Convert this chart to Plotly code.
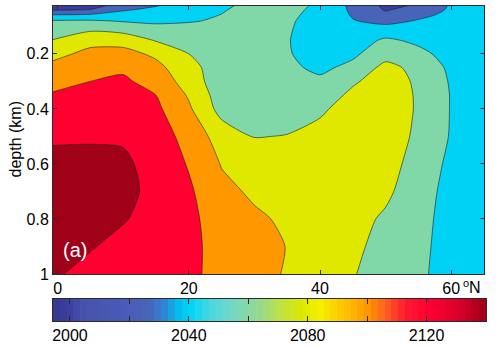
import numpy as np
import plotly.graph_objects as go

# Section grid: latitude (deg N) and depth (km)
lat = [-1, 5, 10, 15, 20, 25, 30, 35, 40, 45, 50, 55, 60, 65]
depth = [0.02, 0.04, 0.06, 0.08, 0.10, 0.15, 0.20, 0.25, 0.30, 0.35,
         0.40, 0.50, 0.60, 0.70, 0.80, 0.90, 1.00]

# Field values, one row per depth, one column per latitude
alk = [
    [1994.0, 1995.0, 2003.0, 2017.0, 2030.0, 2035.0, 2046.0, 2045.0, 2038.0, 2015.0, 1995.0, 2001.0, 2022.0, 2024.0],
    [1998.5, 2000.5, 2018.0, 2025.0, 2033.0, 2038.5, 2046.5, 2044.5, 2036.0, 2016.5, 1998.5, 2008.0, 2023.0, 2024.5],
    [2022.5, 2024.8, 2029.0, 2030.0, 2035.5, 2040.5, 2047.0, 2043.5, 2034.5, 2018.5, 2005.0, 2016.0, 2024.5, 2025.0],
    [2041.6, 2042.0, 2038.5, 2036.5, 2039.0, 2041.5, 2047.5, 2042.5, 2033.0, 2021.0, 2014.0, 2021.5, 2026.0, 2025.5],
    [2046.8, 2052.0, 2048.0, 2043.0, 2042.5, 2042.7, 2048.0, 2042.0, 2032.0, 2024.0, 2023.0, 2025.7, 2027.0, 2026.0],
    [2060.0, 2074.0, 2072.0, 2058.5, 2051.5, 2045.3, 2049.0, 2041.0, 2031.0, 2030.0, 2043.0, 2036.0, 2030.0, 2027.0],
    [2074.0, 2085.0, 2087.0, 2076.0, 2060.0, 2048.0, 2050.0, 2041.5, 2032.0, 2036.5, 2052.0, 2045.0, 2033.0, 2028.0],
    [2085.0, 2092.5, 2097.0, 2086.0, 2066.0, 2050.5, 2051.0, 2044.0, 2036.0, 2045.0, 2066.0, 2054.0, 2036.0, 2029.0],
    [2094.0, 2100.0, 2103.0, 2093.0, 2071.0, 2048.0, 2052.0, 2047.0, 2043.7, 2057.5, 2069.0, 2057.0, 2038.0, 2030.0],
    [2101.5, 2104.5, 2106.5, 2100.0, 2078.0, 2050.0, 2053.5, 2050.0, 2050.0, 2064.0, 2070.0, 2058.0, 2039.0, 2030.0],
    [2107.0, 2109.0, 2110.0, 2104.0, 2083.0, 2053.0, 2055.0, 2054.0, 2057.0, 2068.0, 2071.0, 2058.0, 2039.0, 2030.0],
    [2118.0, 2118.0, 2118.0, 2110.0, 2093.0, 2071.0, 2059.5, 2060.5, 2066.0, 2072.0, 2071.0, 2056.0, 2038.5, 2030.0],
    [2124.0, 2125.0, 2123.0, 2114.0, 2098.5, 2079.0, 2067.0, 2068.0, 2071.0, 2073.0, 2069.0, 2051.0, 2036.0, 2029.0],
    [2128.0, 2130.0, 2124.0, 2116.0, 2103.0, 2085.0, 2077.0, 2073.0, 2073.0, 2071.0, 2064.0, 2048.0, 2034.0, 2028.0],
    [2127.0, 2127.0, 2121.0, 2115.0, 2105.0, 2090.0, 2083.0, 2077.0, 2073.0, 2067.0, 2057.0, 2046.0, 2033.0, 2027.0],
    [2124.0, 2121.0, 2116.0, 2112.0, 2105.0, 2093.0, 2087.0, 2079.5, 2072.0, 2065.0, 2052.0, 2045.0, 2032.0, 2026.0],
    [2122.0, 2116.0, 2113.0, 2110.0, 2104.0, 2094.0, 2088.0, 2078.0, 2070.0, 2061.5, 2049.0, 2044.0, 2031.0, 2025.0],
]

# Latitude ticks and their labels
lat_ticks = [0, 20, 40, 60]
depth_ticks = [0.2, 0.4, 0.6, 0.8, 1.0]
depth_labels = ["0.2", "0.4", "0.6", "0.8", "1"]

# Contour levels and the fill colour of each band (lowest band first)
level_start, level_end, level_step = 2000, 2120, 20
band_colors = ["#3b3d9e", "#4864b8", "#00d2f5", "#80d8a8",
               "#e0e800", "#ff9800", "#ff0030", "#a00018"]

# Colour key: range, labelled ticks, unlabelled tick spacing and colour stops
key_min, key_max, key_steps = 1994.3, 2140.0, 64
key_ticks = [2000, 2040, 2080, 2120]
key_minor_step = 20
key_stop_values = [1994.3, 2000, 2004, 2020, 2027, 2032, 2037, 2040.5, 2047, 2054,
                   2064, 2072, 2078, 2084, 2092, 2100, 2106, 2113, 2121, 2131, 2140]
key_stop_colors = ["#36368f", "#3c40a0", "#4652ae", "#4a5cb8", "#4866ba", "#2c86d8",
                   "#00c4ef", "#00d4f6", "#48d8e0", "#70d8c8", "#96da8c", "#c4e23a",
                   "#dce800", "#f6f000", "#ffc400", "#ff9800", "#ff6220", "#ff1a30",
                   "#ff0030", "#d8002a", "#a00018"]

FONT = "Liberation Sans, Arial, Helvetica, sans-serif"
W, H = 497, 347

band_scale = [[i / (len(band_colors) - 1), c] for i, c in enumerate(band_colors)]
key_scale = [[(v - key_min) / (key_max - key_min), c]
             for v, c in zip(key_stop_values, key_stop_colors)]
key_edges = np.linspace(key_min, key_max, key_steps + 1)
key_centers = 0.5 * (key_edges[:-1] + key_edges[1:])

fig = go.Figure()

fig.add_trace(go.Contour(
    x=lat, y=depth, z=alk,
    contours=dict(coloring="fill", start=level_start, end=level_end,
                  size=level_step, showlines=True),
    line=dict(color="#1c1c1c", width=0.6, smoothing=0.7),
    colorscale=band_scale, showscale=False, hoverinfo="skip",
    xaxis="x", yaxis="y",
))

fig.add_trace(go.Heatmap(
    x=key_centers, y=[0], z=[key_centers],
    colorscale=key_scale, zmin=key_min, zmax=key_max,
    showscale=False, hoverinfo="skip",
    xaxis="x2", yaxis="y2",
))


def px_x(p):
    return p / W


def px_y(p):
    return 1 - p / H


axis_common = dict(showgrid=False, zeroline=False, showline=True, automargin=False,
                   linecolor="#2a2a2a", linewidth=1, ticks="inside",
                   tickcolor="#2a2a2a",
                   tickfont=dict(family=FONT, size=16, color="black"))

fig.update_layout(
    width=W, height=H,
    margin=dict(l=0, r=0, t=0, b=0, autoexpand=False),
    paper_bgcolor="white", plot_bgcolor="white",
    font=dict(family=FONT, size=16, color="black"),
    showlegend=False,
    xaxis=dict(domain=[px_x(53), px_x(484)], range=[-0.7, 65],
               tickvals=lat_ticks, ticktext=[str(v) for v in lat_ticks],
               ticklen=4, mirror="ticks", anchor="y", **axis_common),
    yaxis=dict(domain=[px_y(274), px_y(6)], range=[1.0, 0.026],
               tickvals=depth_ticks, ticktext=depth_labels,
               ticklen=4, mirror="ticks", anchor="x", **axis_common),
    xaxis2=dict(domain=[px_x(53), px_x(486)], range=[key_min, key_max],
                tickvals=key_ticks, ticktext=[str(v) for v in key_ticks],
                ticklen=5, mirror="ticks", anchor="y2",
                minor=dict(tick0=key_ticks[0], dtick=key_minor_step, ticks="inside",
                           ticklen=5, tickcolor="#2a2a2a"),
                **axis_common),
    yaxis2=dict(domain=[px_y(321), px_y(299)], range=[-0.5, 0.5],
                showgrid=False, zeroline=False, showline=True, mirror=True,
                automargin=False, linecolor="#2a2a2a", linewidth=1, ticks="",
                showticklabels=False, anchor="x2"),
    annotations=[
        dict(text="depth (km)", textangle=-90, xref="paper", yref="paper",
             x=px_x(14.5), y=px_y(140), xanchor="center", yanchor="middle",
             showarrow=False, font=dict(family=FONT, size=16, color="black")),
        dict(text="(a)", xref="x", yref="y", x=2.7, y=0.912,
             xanchor="center", yanchor="middle", showarrow=False,
             font=dict(family=FONT, size=20, color="white")),
        # degree-style "o" and "N" after the last latitude label
        dict(text="o", xref="paper", yref="paper", x=px_x(460.5),
             y=px_y(283), xanchor="left", yanchor="middle", showarrow=False,
             font=dict(family=FONT, size=11, color="black")),
        dict(text="N", xref="paper", yref="paper", x=px_x(467),
             y=px_y(287.5), xanchor="left", yanchor="middle", showarrow=False,
             font=dict(family=FONT, size=16, color="black")),
    ],
)

fig.write_html("out.html")
